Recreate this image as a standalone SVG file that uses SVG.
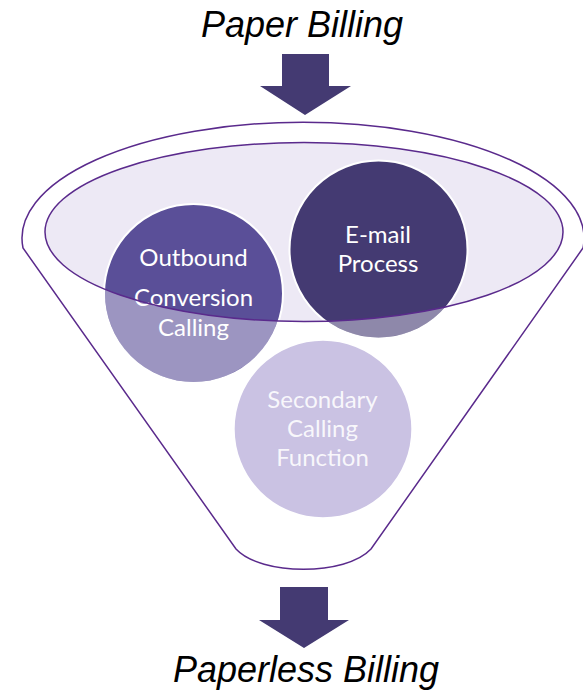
<svg xmlns="http://www.w3.org/2000/svg" width="583" height="691" viewBox="0 0 583 691">
  <style>
    .title { font-family: "Liberation Sans", Arial, sans-serif; font-style: italic; font-size: 36px; fill: #000000; text-anchor: middle; }
    .funnel-line { fill: none; stroke: #5a2a8c; stroke-width: 1.5; }
    .bubble { stroke: #ffffff; stroke-width: 2; }
    .shade { fill: #ffffff; fill-opacity: 0.4; }
    .label { font-family: Lato, "Open Sans", sans-serif; font-size: 24px; fill: #ffffff; text-anchor: middle; }
    .arrow { fill: #443a72; }
  </style>
  <defs>
    <!-- everything below the funnel mouth -->
    <clipPath id="below-rim">
      <path clip-rule="evenodd" d="M0 0 H583 V691 H0 Z M45 232 A259 89.5 0 1 0 563 232 A259 89.5 0 1 0 45 232 Z"/>
    </clipPath>
  </defs>

  <rect width="583" height="691" fill="#ffffff"/>

  <text class="title" x="302" y="37">Paper Billing</text>
  <text class="title" x="306" y="682">Paperless Billing</text>

  <!-- funnel body and mouth -->
  <g id="funnel">
    <path d="M23 248 A281 116 0 1 1 583 248 L371 549 C346 576 261 576 236 549 Z" fill="#ffffff" stroke="#5a2a8c" stroke-width="1.5"/>
    <ellipse cx="304" cy="232" rx="259" ry="89.5" fill="#ede9f5"/>
  </g>

  <g id="node-outbound">
    <circle class="bubble" cx="193.5" cy="293.5" r="89.5" fill="#5a4f98"/>
    <circle class="shade" cx="193.5" cy="293.5" r="88.5" clip-path="url(#below-rim)"/>
    <text class="label" x="193.5" y="266">Outbound</text>
    <text class="label" x="193.5" y="306">Conversion</text>
    <text class="label" x="193.5" y="336">Calling</text>
  </g>

  <g id="node-email">
    <circle class="bubble" cx="378.5" cy="249.5" r="89" fill="#443a72"/>
    <circle class="shade" cx="378.5" cy="249.5" r="88" clip-path="url(#below-rim)"/>
    <text class="label" x="378" y="243">E-mail</text>
    <text class="label" x="378" y="272">Process</text>
  </g>

  <g id="node-secondary">
    <circle class="bubble" cx="323" cy="429" r="89.3" fill="#cac2e3"/>
    <text class="label" x="322.5" y="408" fill-opacity="0.88">Secondary</text>
    <text class="label" x="322.5" y="437" fill-opacity="0.88">Calling</text>
    <text class="label" x="322.5" y="466" fill-opacity="0.88">Function</text>
  </g>

  <!-- rim of the funnel mouth, drawn over the bubbles -->
  <g id="funnel-rim">
    <ellipse class="funnel-line" cx="304" cy="232" rx="259" ry="89.5"/>
  </g>

  <g id="connectors">
    <polygon class="arrow" points="282,54 329,54 329,86 351,86 305,115 260,86 282,86"/>
    <polygon class="arrow" points="280,587 328,587 328,620 349,620 304,648 259,620 280,620"/>
  </g>
</svg>
